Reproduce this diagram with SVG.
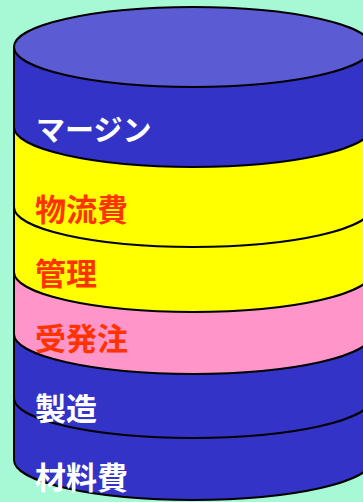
<svg xmlns="http://www.w3.org/2000/svg" width="363" height="502" viewBox="0 0 363 502">
<style>
.seg{stroke:#000;stroke-width:2}
.blue{fill:#3333C8}
.yellow{fill:#FFFF00}
.pink{fill:#FF95C8}
.lbl{font-family:"Noto Sans CJK JP","Noto Sans",sans-serif;font-weight:bold;font-size:31px}
.w{fill:#FFFFFF}
.r{fill:#FF3300}
</style>
<rect width="363" height="502" fill="#A6F9D4"/>
<g id="connectors">
<polygon points="363,227 359,233 358,270 356,290 363,293" fill="#000"/>
</g>
<g id="zairyohi">
<path class="seg blue" d="M372,398 L372,460 A179,40 0 0 1 14,460 L14,398"/>
<text class="lbl w" x="35" y="489">材料費</text>
</g>
<g id="seizo">
<path class="seg blue" d="M372,334 L372,398 A179,40 0 0 1 14,398 L14,334"/>
<text class="lbl w" x="35" y="420">製造</text>
</g>
<g id="juhatchu">
<path class="seg pink" d="M372,272 L372,334 A179,40 0 0 1 14,334 L14,272"/>
<text class="lbl r" x="35" y="350">受発注</text>
</g>
<g id="kanri">
<path class="seg yellow" d="M372,207 L372,272 A179,40 0 0 1 14,272 L14,207"/>
<text class="lbl r" x="35" y="285">管理</text>
</g>
<g id="butsuryuhi">
<path class="seg yellow" d="M372,127 L372,207 A179,40 0 0 1 14,207 L14,127"/>
<text class="lbl r" x="35" y="221">物流費</text>
</g>
<g id="margin">
<path class="seg blue" d="M372,47 L372,127 A179,40 0 0 1 14,127 L14,47"/>
<text class="lbl w" x="36" y="141" style="font-size:29px">マージン</text>
</g>
<g id="top">
<ellipse class="seg" cx="193" cy="47" rx="179" ry="40" fill="#5B5BD4"/>
</g>
</svg>
